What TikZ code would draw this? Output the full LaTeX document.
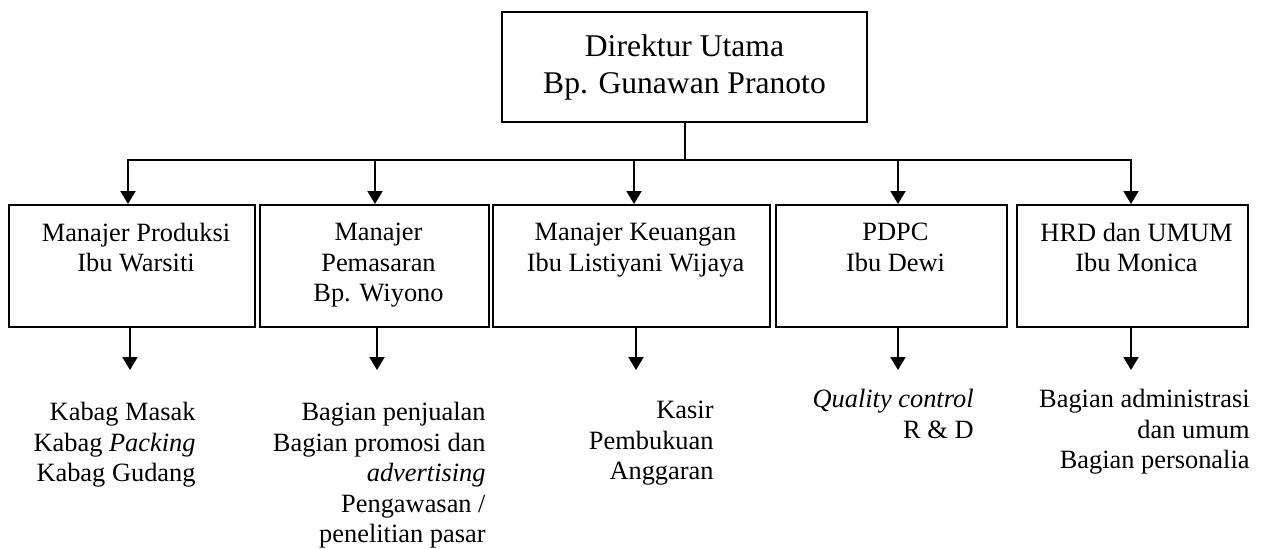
\documentclass[tikz,border=0pt]{standalone}
\usepackage{fontspec}
\setmainfont{Liberation Serif}
\usepackage{tikz}
\usetikzlibrary{arrows.meta}

\begin{document}
\begin{tikzpicture}[
  x=0.5pt, y=-0.5pt,
  boss/.style={draw, line width=1pt, minimum width=182.5pt, minimum height=55pt,
               align=center, font=\fontsize{15.8}{18.5}\selectfont},
  unit/.style={draw, line width=1pt, minimum width=#1, minimum height=61pt},
  head/.style={anchor=north, inner sep=0pt, align=center,
               font=\fontsize{13.2}{15.1}\selectfont},
  sub/.style={anchor=north east, inner sep=0pt, align=right,
              font=\fontsize{13.2}{15.25}\selectfont},
  link/.style={line width=1pt},
  down/.style={line width=1pt, -{Triangle[length=6.5pt, width=7.5pt]}}
]
\useasboundingbox (0,0) rectangle (1262,548);

% Direktur utama
\node[boss] (dir) at (684.5,67) {Direktur Utama\\Bp. Gunawan Pranoto};

% bus line and its branch points
\coordinate (j1) at (128,160);
\coordinate (j2) at (375,160);
\coordinate (j3) at (634,160);
\coordinate (j4) at (898,160);
\coordinate (j5) at (1131,160);
\draw[link] (dir.south) -- (dir.south |- j1);
\draw[link, line cap=rect] (j1) -- (j5);

% Manajer boxes
\node[unit=123pt]   (p1) at (132,266)    {};
\node[unit=114.5pt] (p2) at (374.5,266)  {};
\node[unit=138.5pt] (p3) at (631.5,266)  {};
\node[unit=115.5pt] (p4) at (891.5,266)  {};
\node[unit=115.5pt] (p5) at (1132.5,266) {};

\node[head] (t1) at (136,223)    {Manajer Produksi\\Ibu Warsiti};
\node[head] (t2) at (378.5,223)  {Manajer\\Pemasaran\\Bp. Wiyono};
\node[head] (t3) at (635.5,223)  {Manajer Keuangan\\Ibu Listiyani Wijaya};
\node[head] (t4) at (895.5,223)  {PDPC\\Ibu Dewi};
\node[head] (t5) at (1136.5,223) {HRD dan UMUM\\Ibu Monica};

\foreach \i in {1,...,5}
  \draw[down] (j\i) -- (j\i |- p\i.north);

% lower arrows
\coordinate (k1) at (130,370);
\coordinate (k2) at (377,370);
\coordinate (k3) at (636,370);
\coordinate (k4) at (898,370);
\coordinate (k5) at (1131,370);
\foreach \i in {1,...,5}
  \draw[down] (k\i |- p\i.south) -- (k\i);

% bagian di bawah tiap manajer
\node[sub] (b1) at (196,402) {Kabag Masak\\Kabag \textit{Packing}\\Kabag Gudang};
\node[sub] (b2) at (486,402) {Bagian penjualan\\Bagian promosi dan\\\textit{advertising}\\Pengawasan /\\penelitian pasar};
\node[sub] (b3) at (714,401) {Kasir\\Pembukuan\\Anggaran};
\node[sub] (b4) at (974,389) {\textit{Quality control}\\R \& D};
\node[sub] (b5) at (1250,389) {Bagian administrasi\\dan umum\\Bagian personalia};

\end{tikzpicture}
\end{document}
